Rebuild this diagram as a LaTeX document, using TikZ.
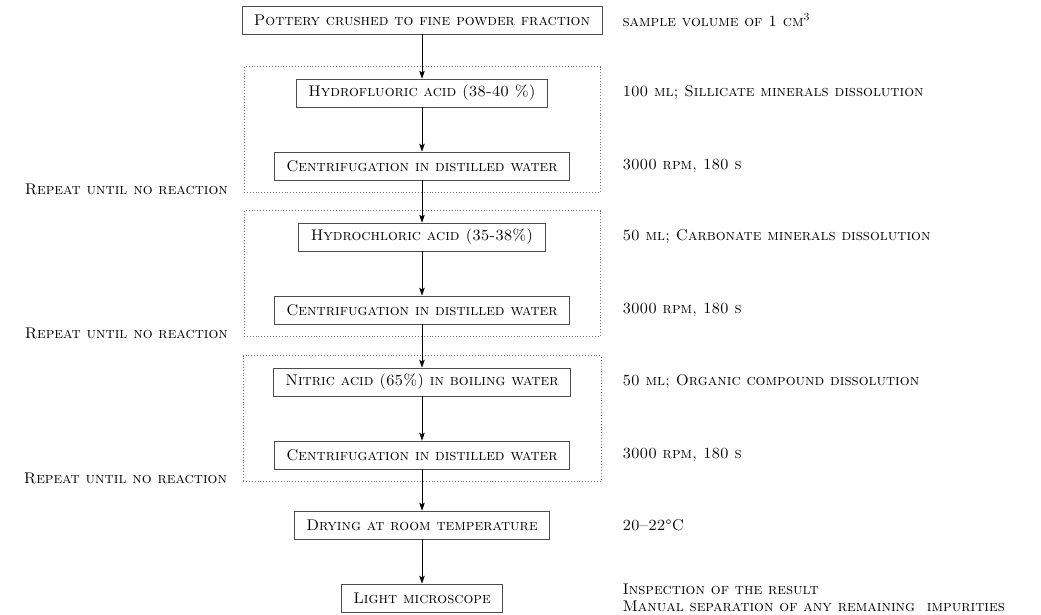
\documentclass[tikz,border=0pt]{standalone}
\usepackage{fontspec}
\usepackage{tikz}
\usetikzlibrary{arrows.meta,positioning,fit}

\tikzset{
  stage/.style={draw=black!70, line width=0.7pt, minimum height=28pt, inner xsep=12pt, font=\fontsize{15.5}{17}\selectfont\scshape},
  group/.style={draw=black!55, dotted, line width=0.9pt, inner xsep=30pt, inner ysep=12pt},
  note/.style={anchor=west, align=left, font=\fontsize{15.5}{16.5}\selectfont\scshape},
  loopnote/.style={font=\fontsize{15.5}{17}\selectfont\scshape},
}

\begin{document}
\begin{tikzpicture}[x=1pt, y=-1pt, >={Stealth[length=8pt,width=5.5pt,inset=2pt]}]
  \useasboundingbox (0,0) rectangle (1041,615);
  \coordinate (rx) at (619,0);

  \node[stage] (pot) at (422,20)  {Pottery crushed to fine powder fraction};
  \node[stage] (hf)  at (422,93)  {Hydrofluoric acid (38-40 \%)};
  \node[stage] (cf1) at (422,166) {Centrifugation in distilled water};
  \node[stage] (hcl) at (422,237) {Hydrochloric acid (35-38\%)};
  \node[stage] (cf2) at (422,310) {Centrifugation in distilled water};
  \node[stage] (hno) at (422,382) {Nitric acid (65\%) in boiling water};
  \node[stage] (cf3) at (422,455) {Centrifugation in distilled water};
  \node[stage] (dry) at (422,525) {Drying at room temperature};
  \node[stage] (lm)  at (422,598) {Light microscope};

  % dotted groups, repeated until no reaction
  \node[group, fit=(hf)(cf1)]  (g1) {};
  \node[group, fit=(hcl)(cf2)] (g2) {};
  \node[group, fit=(hno)(cf3)] (g3) {};
  \node[loopnote, left=12pt of g1.south west, yshift=3pt] (r1) {Repeat until no reaction};
  \node[loopnote, left=12pt of g2.south west, yshift=3pt] (r2) {Repeat until no reaction};
  \node[loopnote, left=12pt of g3.south west, yshift=3pt] (r3) {Repeat until no reaction};

  % conditions
  \node[note] (n1) at (pot -| rx) {sample volume of 1 cm\textsuperscript{3}};
  \node[note] (n2) at (hf -| rx)  {100 ml; Sillicate minerals dissolution};
  \node[note] (n3) at (cf1 -| rx) {3000 rpm, 180 s};
  \node[note] (n4) at (hcl -| rx) {50 ml; Carbonate minerals dissolution};
  \node[note] (n5) at (cf2 -| rx) {3000 rpm, 180 s};
  \node[note] (n6) at (hno -| rx) {50 ml; Organic compound dissolution};
  \node[note] (n7) at (cf3 -| rx) {3000 rpm, 180 s};
  \node[note] (n8) at (dry -| rx) {20--22°C};
  \node[note] (n9) at (lm -| rx)  {Inspection of the result\\Manual separation of any remaining\ \ impurities};

  \path[->, line width=0.6pt]
  (pot) edge (hf)
  (hf)  edge (cf1)
  (cf1) edge (hcl)
  (hcl) edge (cf2)
  (cf2) edge (hno)
  (hno) edge (cf3)
  (cf3) edge (dry)
  (dry) edge (lm)
  ;
\end{tikzpicture}
\end{document}
